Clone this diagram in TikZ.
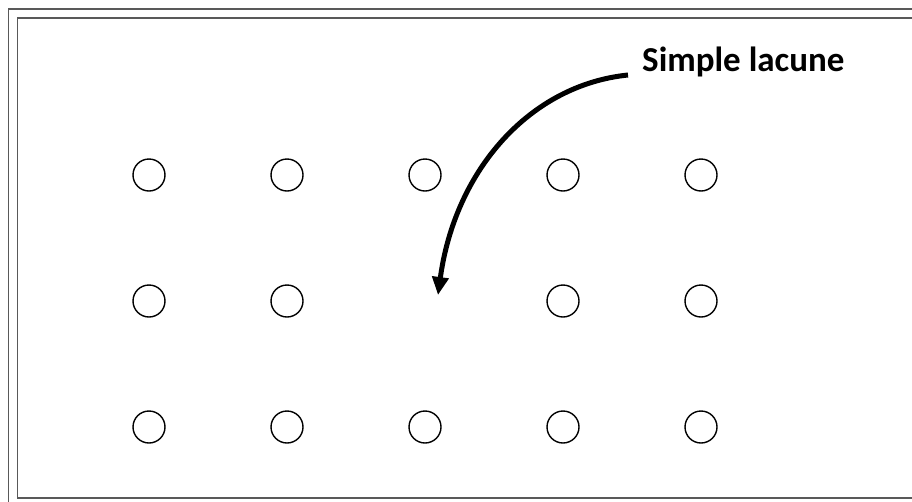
\documentclass[tikz,border=0pt]{standalone}
\usepackage{fontspec}
\setmainfont{Carlito}
\usetikzlibrary{arrows.meta}
\tikzset{
  frameline/.style={draw=black!65, line width=1.5pt},
  hole/.style={circle, draw=black, line width=1.4pt, minimum size=32pt, inner sep=0pt},
  lacarrow/.style={line width=5pt, -{Triangle[length=18pt,width=16pt]}},
  lbl/.style={font=\bfseries\fontsize{35}{38}\selectfont, inner sep=0pt, anchor=base west}
}
\begin{document}
\begin{tikzpicture}[x=1pt,y=-1pt]
\useasboundingbox (0,0) rectangle (912,501);
\clip (0,0) rectangle (912,501);
\fill[white] (0,0) rectangle (912,501);
\draw[frameline] (8.5,9) rectangle (930,520);
\draw[frameline] (17.5,18) rectangle (930,498);
% holes
\foreach \c/\x in {1/149,2/287,3/425,4/563,5/701}{
  \node[hole] (a\c) at (\x,175) {};
  \node[hole] (c\c) at (\x,427) {};
}
\foreach \c/\x in {1/149,2/287,4/563,5/701}{
  \node[hole] (b\c) at (\x,301) {};
}
\node[lbl] (label) at (642,71) {Simple lacune};
\coordinate (start) at (628,75);
\coordinate (tip) at (438,295);
\draw[lacarrow] (start) .. controls (530,85) and (455,170) .. (tip);
\end{tikzpicture}
\end{document}
